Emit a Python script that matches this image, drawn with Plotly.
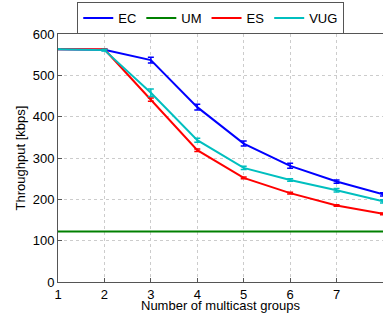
import plotly.graph_objects as go

groups = [1, 2, 3, 4, 5, 6, 7, 8]
ec = [563, 562, 537, 423, 335, 281, 243, 212]
ec_err = [0, 2, 7, 7, 6, 6, 4, 4]
um = [122, 122, 122, 122, 122, 122, 122, 122]
es = [563, 563, 441, 319, 252, 215, 185, 165]
es_err = [0, 1, 4, 3, 2, 2, 2, 2]
vug = [563, 561, 458, 343, 276, 247, 222, 195]
vug_err = [0, 2, 9, 5, 4, 3, 4, 4]

series = [
    ("EC", ec, ec_err, "#0000ff"),
    ("UM", um, None, "#008000"),
    ("ES", es, es_err, "#ff0000"),
    ("VUG", vug, vug_err, "#00bfbf"),
]

fig = go.Figure()
for name, ys, err, col in series:
    fig.add_trace(go.Scatter(
        x=groups, y=ys, name=name, mode="lines",
        line=dict(color=col, width=2),
        error_y=(dict(type="data", array=err, visible=True, color=col,
                      thickness=1.5, width=3) if err else None),
        cliponaxis=False,
    ))

fig.update_layout(
    width=383, height=314,
    margin=dict(l=58, r=0, t=34, b=32, autoexpand=False),
    paper_bgcolor="white", plot_bgcolor="white",
    font=dict(family="Liberation Sans, Arial, sans-serif", size=13, color="black"),
    showlegend=True,
    legend=dict(orientation="h", x=0.47, xanchor="center", y=1.0, yanchor="bottom",
                bordercolor="#555555", borderwidth=1, bgcolor="white",
                font=dict(size=13), itemwidth=30, tracegroupgap=0),
    xaxis=dict(range=[1, 8], tickvals=groups, showgrid=True, automargin=False,
               gridcolor="#cccccc", griddash="dot", gridwidth=1,
               showline=True, linecolor="#555555", mirror=True,
               ticks="inside", ticklen=4, tickcolor="#555555",
               zeroline=False, tickfont=dict(size=13)),
    yaxis=dict(range=[0, 600], tickvals=[0, 100, 200, 300, 400, 500, 600], showgrid=True,
               automargin=False,
               gridcolor="#cccccc", griddash="dot", gridwidth=1,
               showline=True, linecolor="#555555", mirror=True,
               ticks="inside", ticklen=4, tickcolor="#555555",
               zeroline=False, tickfont=dict(size=13),
               title=dict(text="Throughput [kbps]", font=dict(size=13), standoff=4)),
    annotations=[dict(text="Number of multicast groups", xref="paper", yref="paper",
                      x=0.5, y=0, yshift=-32, xanchor="center", yanchor="bottom",
                      showarrow=False, font=dict(size=13), borderpad=0)],
)

fig.write_html(
    "out.html",
    config={"displayModeBar": False},
    post_script="document.body.style.margin='0';document.body.style.overflow='hidden';",
)
